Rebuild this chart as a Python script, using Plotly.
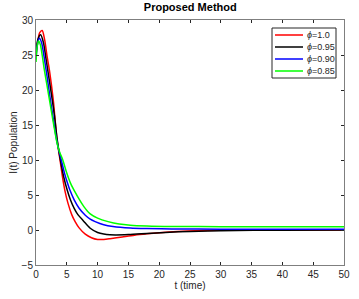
import plotly.graph_objects as go

# Data
t_red = [0, 0.3, 0.6, 1.0, 1.4, 1.8, 2.2, 2.8, 3.4, 3.9, 4.3, 4.7, 5.2, 5.8, 6.35, 7, 8, 9, 10, 11, 12, 14, 16, 18, 20, 23, 27, 32, 40, 50]
i_red = [25.0, 27.0, 28.2, 28.5, 27.2, 24.8, 22.7, 18.6, 13.0, 10.0, 7.6, 5.6, 3.8, 2.2, 1.2, 0.3, -0.6, -1.1, -1.35, -1.35, -1.25, -1.0, -0.75, -0.55, -0.38, -0.2, -0.08, -0.02, 0.0, 0.0]

t_black = [0, 0.3, 0.75, 1.2, 1.6, 2.0, 2.5, 3.0, 3.4, 3.9, 4.5, 5.1, 5.6, 6.2, 6.8, 7.7, 8.8, 10, 11, 12, 13, 15, 18, 21, 25, 30, 40, 50]
i_black = [25.2, 27.2, 27.9, 26.8, 24.6, 22.3, 19.4, 16.3, 13.2, 10.3, 7.6, 5.6, 4.3, 3.1, 2.2, 1.3, 0.25, -0.35, -0.58, -0.68, -0.7, -0.65, -0.5, -0.35, -0.2, -0.1, -0.02, 0.0]

t_blue = [0, 0.25, 0.55, 0.9, 1.3, 1.8, 2.3, 2.8, 3.4, 4.1, 4.6, 5.15, 5.5, 6.2, 7, 8, 8.8, 9.6, 11, 12.5, 15.3, 18, 22, 30, 40, 50]
i_blue = [24.5, 26.6, 27.4, 26.8, 24.8, 21.9, 18.8, 15.9, 12.6, 10.0, 8.2, 6.6, 5.7, 4.3, 3.1, 2.1, 1.55, 1.2, 0.75, 0.5, 0.28, 0.2, 0.15, 0.12, 0.1, 0.1]

t_green = [0, 0.2, 0.4, 0.7, 1.0, 1.35, 1.8, 2.2, 2.8, 3.4, 3.8, 4.35, 4.9, 5.6, 6.35, 7, 7.8, 8.8, 10, 11.7, 13.5, 15.3, 18, 22, 30, 40, 50]
i_green = [24.0, 26.3, 27.0, 26.5, 25.0, 22.9, 20.6, 18.5, 15.4, 12.5, 11.2, 10.0, 8.4, 6.7, 5.4, 4.4, 3.3, 2.3, 1.7, 1.2, 0.85, 0.68, 0.57, 0.5, 0.48, 0.47, 0.47]

names = ["<i>ϕ</i>=1.0", "<i>ϕ</i>=0.95", "<i>ϕ</i>=0.90", "<i>ϕ</i>=0.85"]
colors = ["#ff0000", "#000000", "#0000ff", "#00ff00"]
series = [(t_red, i_red), (t_black, i_black), (t_blue, i_blue), (t_green, i_green)]

x_ticks = list(range(0, 51, 5))
y_ticks = list(range(-5, 31, 5))

W, H = 359, 299
ML, MR, MT, MB = 36, 15, 20, 34
PW, PH = W - ML - MR, H - MT - MB


def px_x(p):
    return (p - ML) / PW


def px_y(p):
    return 1 - (p - MT) / PH


fig = go.Figure()
for (tx, iy), nm, c in zip(series, names, colors):
    fig.add_trace(go.Scatter(x=tx, y=iy, mode="lines", name=nm, showlegend=False,
                             line=dict(color=c, width=1.5, shape="spline", smoothing=0.8)))

# Legend box (drawn like the MATLAB legend)
shapes = [dict(type="rect", xref="paper", yref="paper",
               x0=px_x(272), x1=px_x(336), y0=px_y(78), y1=px_y(28),
               line=dict(color="#262626", width=1), fillcolor="white", layer="above")]
annotations = []
rows = [35, 47, 59, 71]
for r, nm, c in zip(rows, names, colors):
    shapes.append(dict(type="line", xref="paper", yref="paper",
                       x0=px_x(275), x1=px_x(303), y0=px_y(r), y1=px_y(r),
                       line=dict(color=c, width=1.5), layer="above"))
    annotations.append(dict(text=nm, xref="paper", yref="paper", x=px_x(305), y=px_y(r),
                            xanchor="left", yanchor="middle", showarrow=False,
                            font=dict(size=9, color="#262626")))

axis_common = dict(showline=True, linecolor="#7f7f7f", linewidth=1, mirror="ticks",
                   ticks="inside", ticklen=3, tickcolor="#262626", showgrid=False,
                   zeroline=False, automargin=False, tickfont=dict(size=10, color="#262626"))

fig.update_layout(
    width=W, height=H,
    margin=dict(l=ML, r=MR, t=MT, b=MB),
    paper_bgcolor="white", plot_bgcolor="white",
    font=dict(family="Liberation Sans, Arial", size=10, color="#262626"),
    title=dict(text="<b>Proposed Method</b>", x=0.53, xanchor="center", y=0.99, yanchor="top",
               font=dict(size=11, color="#000000")),
    xaxis=dict(range=[0, 50], tickvals=x_ticks, title=dict(text="t (time)", standoff=2, font=dict(size=10)),
               **axis_common),
    yaxis=dict(range=[-5, 30], tickvals=y_ticks, title=dict(text="I(t) Population", standoff=2, font=dict(size=10)),
               **axis_common),
    shapes=shapes,
    annotations=annotations,
    showlegend=False,
)

fig.write_html("out.html", config={"displayModeBar": False},
               post_script="document.body.style.margin='0';")
